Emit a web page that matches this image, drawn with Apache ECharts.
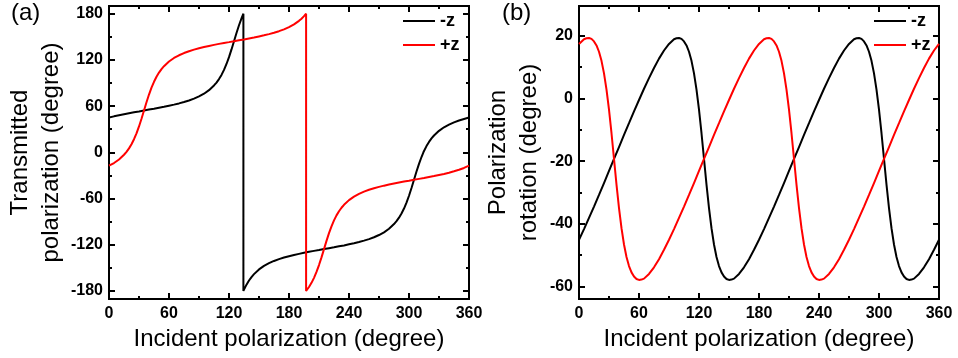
<!DOCTYPE html>
<html><head><meta charset="utf-8">
<script src="https://cdn.jsdelivr.net/npm/echarts@6/dist/echarts.min.js"></script>
<style>html,body{margin:0;padding:0;background:#fff}#c{width:958px;height:358px}</style>
</head><body><div id="c"></div>
<script>
const FONT = '"Liberation Sans", Arial, Helvetica, sans-serif';
const seriesNames = ['-z', '+z'];
const xTitle = 'Incident polarization (degree)';
const yTitleA = 'Transmitted\npolarization (degree)';
const yTitleB = 'Polarization\nrotation (degree)';
const yMajorA = [-180, -120, -60, 0, 60, 120, 180];
const yMinorA = [-150, -90, -30, 30, 90, 150];
const yMajorB = [-60, -40, -20, 0, 20];
const yMinorB = [-50, -30, -10, 10];

// (a) transmitted polarization, -z
const aNegZ = [[0,45.1],[5,46.7],[10,48.1],[15,49.5],[20,50.8],[25,52.0],[30,53.1],[35,54.3],[40,55.5],[45,56.6],[50,57.9],[55,59.1],[60,60.5],[65,61.9],[70,63.5],[75,65.3],[80,67.3],[85,69.7],[90,72.6],[95,76.1],[100,80.7],[105,86.8],[107.5,90.6],[110,95.1],[112.5,100.5],[115,107.0],[117.5,114.7],[120,123.6],[122.5,133.6],[125,144.3],[127.5,155.0],[130,165.0],[132.5,173.9],[134.4,180],[134.4,-180],[135,-178.4],[137.5,-171.9],[140,-166.5],[142.5,-162.0],[145,-158.2],[150,-152.1],[155,-147.5],[160,-144.0],[165,-141.1],[170,-138.7],[175,-136.7],[180,-134.9],[185,-133.3],[190,-131.9],[195,-130.5],[200,-129.2],[205,-128.0],[210,-126.9],[215,-125.7],[220,-124.5],[225,-123.4],[230,-122.1],[235,-120.9],[240,-119.5],[245,-118.1],[250,-116.5],[255,-114.7],[260,-112.7],[265,-110.3],[270,-107.4],[275,-103.9],[280,-99.3],[285,-93.2],[287.5,-89.4],[290,-84.9],[292.5,-79.5],[295,-73.0],[297.5,-65.3],[300,-56.4],[302.5,-46.4],[305,-35.7],[307.5,-25.0],[310,-15.0],[312.5,-6.1],[314.4,0],[315,1.6],[317.5,8.1],[320,13.5],[322.5,18.0],[325,21.8],[330,27.9],[335,32.5],[340,36.0],[345,38.9],[350,41.3],[355,43.3],[360,45.1]];
// (a) transmitted polarization, +z
const aPosZ = [[0,-17.4],[5,-13.9],[10,-9.3],[15,-3.2],[17.5,0.6],[20,5.1],[22.5,10.5],[25,17.0],[27.5,24.7],[30,33.6],[32.5,43.6],[35,54.3],[37.5,65.0],[40,75.0],[42.5,83.9],[45,91.6],[47.5,98.1],[50,103.5],[52.5,108.0],[55,111.8],[60,117.9],[65,122.5],[70,126.0],[75,128.9],[80,131.3],[85,133.3],[90,135.1],[95,136.7],[100,138.1],[105,139.5],[110,140.8],[115,142.0],[120,143.1],[125,144.3],[130,145.5],[135,146.6],[140,147.9],[145,149.1],[150,150.5],[155,151.9],[160,153.5],[165,155.3],[170,157.3],[175,159.7],[180,162.6],[185,166.1],[190,170.7],[192.5,173.5],[195,176.8],[197.1,180],[197.1,-180],[197.5,-179.4],[200,-174.9],[202.5,-169.5],[205,-163.0],[207.5,-155.3],[210,-146.4],[212.5,-136.4],[215,-125.7],[217.5,-115.0],[220,-105.0],[222.5,-96.1],[225,-88.4],[227.5,-81.9],[230,-76.5],[232.5,-72.0],[235,-68.2],[240,-62.1],[245,-57.5],[250,-54.0],[255,-51.1],[260,-48.7],[265,-46.7],[270,-44.9],[275,-43.3],[280,-41.9],[285,-40.5],[290,-39.2],[295,-38.0],[300,-36.9],[305,-35.7],[310,-34.5],[315,-33.4],[320,-32.1],[325,-30.9],[330,-29.5],[335,-28.1],[340,-26.5],[345,-24.7],[350,-22.7],[355,-20.3],[360,-17.4]];
// (b) polarization rotation, -z
const bNegZ = [[0,-45.1],[5,-41.7],[10,-38.1],[15,-34.5],[20,-30.8],[25,-27.0],[30,-23.1],[35,-19.3],[40,-15.5],[45,-11.6],[50,-7.9],[55,-4.1],[60,-0.5],[65,3.1],[70,6.5],[75,9.7],[80,12.7],[85,15.3],[90,17.4],[95,18.9],[97.5,19.2],[100,19.3],[102.5,19.0],[105,18.2],[107.5,16.9],[110,14.9],[112.5,12.0],[115,8.0],[117.5,2.8],[120,-3.6],[122.5,-11.1],[125,-19.3],[127.5,-27.5],[130,-35.0],[132.5,-41.4],[135,-46.6],[137.5,-50.6],[140,-53.5],[142.5,-55.5],[145,-56.8],[147.5,-57.6],[150,-57.9],[152.5,-57.8],[155,-57.5],[160,-56.0],[165,-53.9],[170,-51.3],[175,-48.3],[180,-45.1],[185,-41.7],[190,-38.1],[195,-34.5],[200,-30.8],[205,-27.0],[210,-23.1],[215,-19.3],[220,-15.5],[225,-11.6],[230,-7.9],[235,-4.1],[240,-0.5],[245,3.1],[250,6.5],[255,9.7],[260,12.7],[265,15.3],[270,17.4],[275,18.9],[277.5,19.2],[280,19.3],[282.5,19.0],[285,18.2],[287.5,16.9],[290,14.9],[292.5,12.0],[295,8.0],[297.5,2.8],[300,-3.6],[302.5,-11.1],[305,-19.3],[307.5,-27.5],[310,-35.0],[312.5,-41.4],[315,-46.6],[317.5,-50.6],[320,-53.5],[322.5,-55.5],[325,-56.8],[327.5,-57.6],[330,-57.9],[332.5,-57.8],[335,-57.5],[340,-56.0],[345,-53.9],[350,-51.3],[355,-48.3],[360,-45.1]];
// (b) polarization rotation, +z
const bPosZ = [[0,17.4],[5,18.9],[7.5,19.2],[10,19.3],[12.5,19.0],[15,18.2],[17.5,16.9],[20,14.9],[22.5,12.0],[25,8.0],[27.5,2.8],[30,-3.6],[32.5,-11.1],[35,-19.3],[37.5,-27.5],[40,-35.0],[42.5,-41.4],[45,-46.6],[47.5,-50.6],[50,-53.5],[52.5,-55.5],[55,-56.8],[57.5,-57.6],[60,-57.9],[62.5,-57.8],[65,-57.5],[70,-56.0],[75,-53.9],[80,-51.3],[85,-48.3],[90,-45.1],[95,-41.7],[100,-38.1],[105,-34.5],[110,-30.8],[115,-27.0],[120,-23.1],[125,-19.3],[130,-15.5],[135,-11.6],[140,-7.9],[145,-4.1],[150,-0.5],[155,3.1],[160,6.5],[165,9.7],[170,12.7],[175,15.3],[180,17.4],[185,18.9],[187.5,19.2],[190,19.3],[192.5,19.0],[195,18.2],[197.5,16.9],[200,14.9],[202.5,12.0],[205,8.0],[207.5,2.8],[210,-3.6],[212.5,-11.1],[215,-19.3],[217.5,-27.5],[220,-35.0],[222.5,-41.4],[225,-46.6],[227.5,-50.6],[230,-53.5],[232.5,-55.5],[235,-56.8],[237.5,-57.6],[240,-57.9],[242.5,-57.8],[245,-57.5],[250,-56.0],[255,-53.9],[260,-51.3],[265,-48.3],[270,-45.1],[275,-41.7],[280,-38.1],[285,-34.5],[290,-30.8],[295,-27.0],[300,-23.1],[305,-19.3],[310,-15.5],[315,-11.6],[320,-7.9],[325,-4.1],[330,-0.5],[335,3.1],[340,6.5],[345,9.7],[350,12.7],[355,15.3],[360,17.4]];

const BLACK = '#000000', RED = '#ff0000';
const axisLine = {show: true, onZero: false, lineStyle: {color: '#000', width: 2}};
const tickStyle = {color: '#000', width: 2};

function xAxes(gridIndex) {
  const base = {gridIndex, type: 'value', min: 0, max: 360, interval: 60,
    axisLine, splitLine: {show: false},
    axisTick: {show: true, inside: true, length: 6, lineStyle: tickStyle},
    minorTick: {show: true, splitNumber: 2, length: 3, lineStyle: tickStyle}};
  return [
    Object.assign({}, base, {position: 'bottom',
      axisLabel: {show: true, margin: 7, color: '#000', fontFamily: FONT, fontWeight: 'bold', fontSize: 16},
      name: xTitle, nameLocation: 'middle', nameGap: 38,
      nameTextStyle: {fontFamily: FONT, fontSize: 24, color: '#000', verticalAlign: 'middle', align: 'center'}}),
    Object.assign({}, base, {position: 'top', axisLabel: {show: false}})
  ];
}
function yAxes(gridIndex, min, max, major, minor, title, gap) {
  const base = {gridIndex, type: 'value', min, max, axisLine, splitLine: {show: false}};
  const majorTick = {show: true, inside: true, length: 6, customValues: major, lineStyle: tickStyle};
  const minorTickAx = {show: true, inside: true, length: 3, customValues: minor, lineStyle: tickStyle};
  return [
    Object.assign({}, base, {position: 'left', axisTick: majorTick,
      axisLabel: {show: true, customValues: major, margin: 6, color: '#000', fontFamily: FONT, fontWeight: 'bold', fontSize: 16},
      name: title, nameLocation: 'middle', nameRotate: 90, nameGap: gap,
      nameTextStyle: {fontFamily: FONT, fontSize: 24, color: '#000', lineHeight: 31, align: 'center', verticalAlign: 'middle'}}),
    Object.assign({}, base, {position: 'left', axisTick: minorTickAx, axisLabel: {show: false}}),
    Object.assign({}, base, {position: 'right', axisTick: majorTick, axisLabel: {show: false}}),
    Object.assign({}, base, {position: 'right', axisTick: minorTickAx, axisLabel: {show: false}})
  ];
}
function line(name, data, color, xi, yi) {
  return {type: 'line', name, data, xAxisIndex: xi, yAxisIndex: yi, symbol: 'none', showSymbol: false,
    lineStyle: {color, width: 2}, itemStyle: {color}, clip: true, animation: false};
}
const legendBase = {orient: 'vertical', icon: 'rect', itemWidth: 32, itemHeight: 2, itemGap: 4,
  data: seriesNames, selectedMode: false, padding: 0,
  textStyle: {fontFamily: FONT, fontWeight: 'bold', fontSize: 18, lineHeight: 20, color: '#000'}};

const chart = echarts.init(document.getElementById('c'), null, {renderer: 'canvas'});
chart.setOption({
  animation: false,
  backgroundColor: '#ffffff',
  grid: [
    {left: 109, top: 6, width: 360, height: 293},
    {left: 579, top: 6, width: 360, height: 293}
  ],
  xAxis: [].concat(xAxes(0), xAxes(1)),
  yAxis: [].concat(yAxes(0, -190.5, 190, yMajorA, yMinorA, yTitleA, 72),
                   yAxes(1, -64, 29.5, yMajorB, yMinorB, yTitleB, 65)),
  legend: [
    Object.assign({}, legendBase, {left: 403, top: 11}),
    Object.assign({}, legendBase, {left: 874, top: 11})
  ],
  graphic: [
    {type: 'text', left: 11, top: 1, style: {text: '(a)', font: '24px ' + FONT, fill: '#000'}},
    {type: 'text', left: 502, top: 1, style: {text: '(b)', font: '24px ' + FONT, fill: '#000'}}
  ],
  series: [
    line('-z', aNegZ, BLACK, 0, 0),
    line('+z', aPosZ, RED, 0, 0),
    line('-z', bNegZ, BLACK, 2, 4),
    line('+z', bPosZ, RED, 2, 4)
  ]
});
</script></body></html>
